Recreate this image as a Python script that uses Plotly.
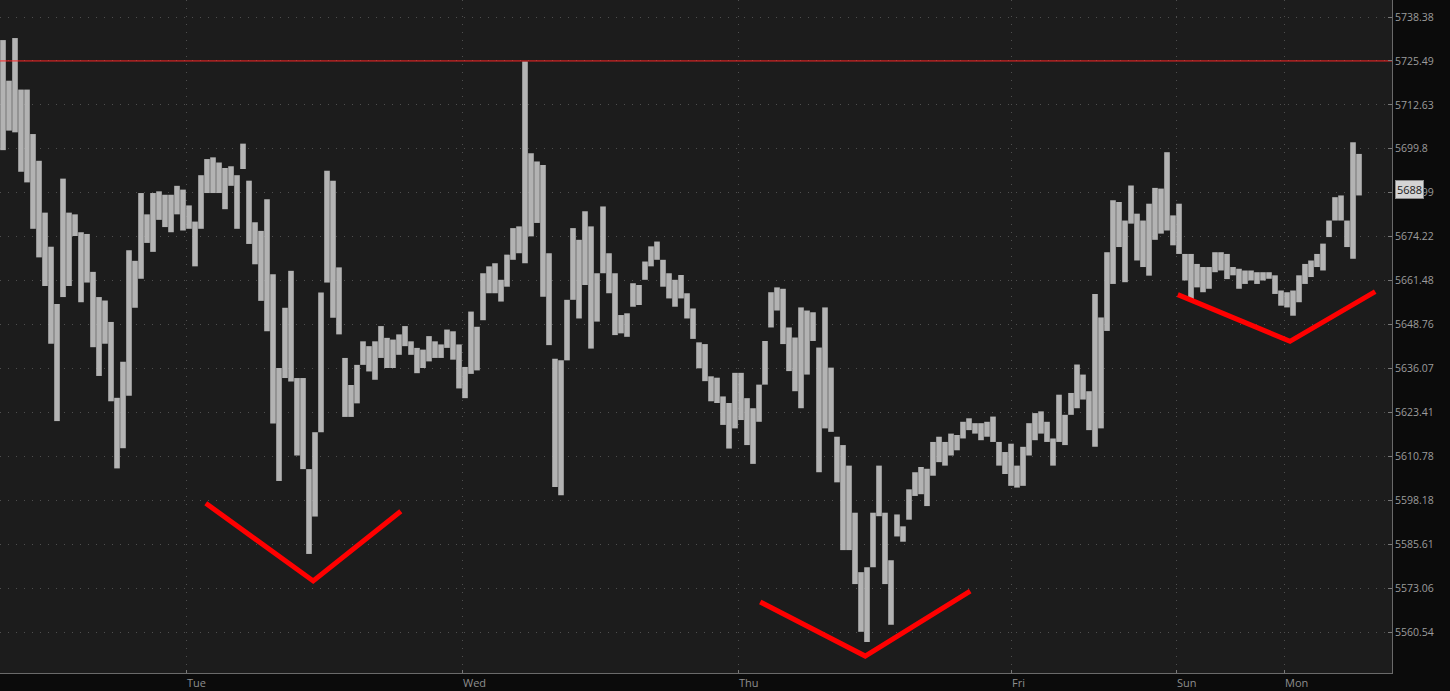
import math
import plotly.graph_objects as go

# 30-minute bars: high / low prices
bar_high = [
    5731.6, 5719.7, 5732.2, 5717.1, 5717.1, 5704.1, 5696.3, 5681.2, 5671.3, 5654.7,
    5691.1, 5681.2, 5680.7, 5675.5, 5675.0, 5664.0, 5656.7, 5655.7, 5649.5, 5627.6,
    5638.0, 5670.3, 5667.2, 5686.9, 5680.7, 5686.9, 5687.4, 5686.4, 5686.4, 5689.0,
    5687.9, 5683.3, 5678.6, 5692.1, 5696.8, 5697.3, 5695.8, 5694.2, 5694.7, 5692.1,
    5701.3, 5690.5, 5678.4, 5675.9, 5685.1, 5663.3, 5636.2, 5653.6, 5664.3, 5633.3,
    5633.3, 5607.1, 5617.7, 5658.0, 5693.4, 5690.5, 5665.3, 5639.1, 5631.3, 5637.1,
    5643.9, 5642.5, 5643.9, 5648.3, 5644.9, 5644.4, 5645.9, 5648.3, 5643.9, 5642.0,
    5641.5, 5645.4, 5643.9, 5643.0, 5647.3, 5646.8, 5643.0, 5636.5, 5652.5, 5648.1,
    5663.6, 5665.6, 5666.5, 5661.7, 5669.0, 5676.7, 5677.2, 5725.3, 5698.5, 5696.1,
    5695.1, 5669.4, 5638.9, 5638.4, 5655.9, 5676.7, 5673.3, 5681.6, 5677.2, 5663.6,
    5683.0, 5669.4, 5663.6, 5651.5, 5652.0, 5660.7, 5660.2, 5667.0, 5671.4, 5672.8,
    5667.5, 5663.6, 5661.7, 5663.1, 5657.8, 5653.4, 5643.6, 5643.1, 5633.8, 5633.4,
    5628.0, 5626.1, 5634.8, 5634.8, 5627.5, 5624.6, 5631.4, 5644.0, 5658.1, 5659.5,
    5659.1, 5647.9, 5645.0, 5653.7, 5652.8, 5652.3, 5642.1, 5653.7, 5636.3, 5616.4,
    5614.0, 5608.1, 5594.6, 5577.6, 5579.0, 5594.6, 5608.1, 5594.6, 5581.0, 5594.1,
    5590.7, 5601.3, 5606.2, 5607.7, 5607.2, 5614.9, 5616.4, 5614.9, 5617.3, 5616.9,
    5620.7, 5621.7, 5620.3, 5620.3, 5620.7, 5622.2, 5614.9, 5612.0, 5614.4, 5608.1,
    5613.5, 5620.3, 5623.2, 5623.7, 5620.7, 5615.9, 5628.5, 5622.7, 5629.0, 5637.2,
    5634.3, 5629.5, 5657.6, 5650.8, 5669.7, 5684.8, 5684.3, 5678.9, 5689.1, 5680.9,
    5678.9, 5683.8, 5688.4, 5688.2, 5698.8, 5680.4, 5683.8, 5669.2, 5669.2, 5666.3,
    5665.4, 5665.4, 5669.7, 5669.7, 5669.2, 5665.4, 5664.9, 5664.4, 5664.4, 5663.9,
    5663.9, 5663.9, 5663.0, 5658.6, 5658.1, 5658.6, 5663.0, 5666.3, 5667.3, 5669.2,
    5672.2, 5678.9, 5685.7, 5686.2, 5678.9, 5701.7, 5698.3,
]
bar_low = [
    5699.4, 5705.1, 5704.6, 5693.1, 5690.0, 5676.5, 5668.2, 5659.9, 5643.2, 5620.9,
    5656.7, 5659.9, 5674.4, 5655.2, 5660.9, 5642.2, 5633.9, 5643.2, 5626.6, 5607.3,
    5613.1, 5628.2, 5653.6, 5662.0, 5672.4, 5669.8, 5679.1, 5677.0, 5675.5, 5680.7,
    5676.0, 5676.5, 5665.6, 5676.5, 5686.9, 5686.9, 5686.9, 5682.2, 5689.0, 5676.5,
    5693.9, 5672.1, 5666.2, 5655.6, 5646.8, 5620.2, 5603.7, 5633.3, 5632.3, 5611.0,
    5607.1, 5582.8, 5593.5, 5617.7, 5660.9, 5650.7, 5645.9, 5622.1, 5622.1, 5626.0,
    5637.1, 5635.2, 5632.8, 5639.1, 5636.2, 5636.2, 5640.0, 5642.5, 5640.0, 5634.7,
    5636.2, 5638.1, 5639.1, 5639.1, 5642.0, 5638.6, 5630.3, 5627.5, 5634.5, 5635.5,
    5650.0, 5657.8, 5657.8, 5655.4, 5659.7, 5667.5, 5669.4, 5666.5, 5674.3, 5678.2,
    5656.8, 5642.8, 5602.0, 5599.6, 5638.4, 5655.9, 5650.5, 5660.2, 5641.8, 5649.6,
    5663.6, 5657.8, 5645.7, 5646.2, 5645.2, 5653.9, 5654.4, 5661.7, 5665.6, 5667.5,
    5659.7, 5656.3, 5653.9, 5656.3, 5650.5, 5644.6, 5636.1, 5632.4, 5626.6, 5626.1,
    5619.8, 5613.0, 5618.8, 5621.2, 5614.0, 5608.6, 5620.7, 5631.4, 5647.9, 5652.8,
    5643.1, 5635.3, 5629.5, 5624.6, 5634.3, 5644.0, 5606.2, 5618.8, 5617.8, 5603.3,
    5583.9, 5583.9, 5574.2, 5560.6, 5557.7, 5579.0, 5593.6, 5574.2, 5562.6, 5587.8,
    5586.3, 5592.6, 5599.4, 5599.9, 5596.5, 5605.2, 5609.1, 5608.1, 5611.0, 5612.5,
    5615.9, 5618.3, 5617.3, 5615.4, 5616.4, 5614.9, 5608.1, 5605.7, 5602.3, 5601.8,
    5602.3, 5611.0, 5615.4, 5617.3, 5614.9, 5608.1, 5614.9, 5614.0, 5622.7, 5624.6,
    5627.1, 5618.3, 5613.5, 5618.8, 5646.9, 5660.5, 5671.2, 5661.0, 5678.0, 5667.3,
    5665.4, 5662.9, 5673.3, 5675.1, 5676.0, 5671.7, 5669.2, 5661.5, 5655.7, 5659.5,
    5658.1, 5659.1, 5663.9, 5664.4, 5661.9, 5663.0, 5659.1, 5660.5, 5661.5, 5660.5,
    5661.5, 5662.0, 5657.6, 5654.2, 5653.7, 5651.3, 5655.2, 5660.5, 5662.5, 5665.4,
    5664.4, 5674.1, 5678.9, 5678.9, 5671.2, 5667.8, 5686.2,
]

# axis ticks
y_ticks = [5738.38, 5725.49, 5712.63, 5699.8, 5686.99, 5674.22, 5661.48, 5648.76,
           5636.07, 5623.41, 5610.78, 5598.18, 5585.61, 5573.06, 5560.54]
x_tick_pos = [30.5, 76.5, 122.5, 168, 195.5, 213.5]
x_tick_labels = ["Tue", "Wed", "Thu", "Fri", "Sun", "Mon"]

# resistance level and last price
resistance = 5725.49
last_price = 5688

# red V drawings (x in bar index, y in price)
v_shapes = [
    ([33.8, 51.7, 66.3], [5597.3, 5575.1, 5595.0]),
    ([126.2, 143.7, 161.2], [5569.1, 5553.7, 5572.2]),
    ([195.8, 214.5, 228.7], [5657.4, 5643.9, 5658.3]),
]

# ---------------------------------------------------------------
W, H = 1450, 691
plot_h = 673
lg_hi, lg_lo = math.log10(y_ticks[0]), math.log10(y_ticks[-1])
per_px = (lg_hi - lg_lo) / (632 - 17)
y_range = [lg_lo - (plot_h - 632) * per_px, lg_hi + 17 * per_px]

xs, ys = [], []
for i, (h, l) in enumerate(zip(bar_high, bar_low)):
    xs += [i, i, None]
    ys += [l, h, None]

fig = go.Figure()
fig.add_trace(go.Scatter(x=xs, y=ys, mode="lines",
                         line=dict(color="#b3b3b3", width=5.6),
                         hoverinfo="skip", showlegend=False))

fig.add_trace(go.Scatter(x=[-0.5, 231.5], y=[resistance, resistance], mode="lines",
                         line=dict(color="#ff2626", width=1),
                         hoverinfo="skip", showlegend=False))

for vx, vy in v_shapes:
    fig.add_trace(go.Scatter(x=vx, y=vy, mode="lines",
                             line=dict(color="#ff0000", width=5),
                             hoverinfo="skip", showlegend=False))

fig.add_annotation(xref="paper", x=1.0, xanchor="left", xshift=3,
                   yref="y", y=math.log10(last_price), yanchor="middle",
                   text=str(last_price), showarrow=False,
                   font=dict(family="Open Sans", size=11, color="#1a1a1a"),
                   bgcolor="#d4d4d4", bordercolor="#8a8a8a", borderwidth=1,
                   borderpad=1)

grid = dict(showgrid=True, gridcolor="#4e4e4e", gridwidth=1, griddash="1px,7px")

fig.update_layout(
    width=W, height=H, autosize=False,
    margin=dict(l=0, r=58, t=0, b=18, pad=0),
    paper_bgcolor="#0b0b0b", plot_bgcolor="#1c1c1c",
    showlegend=False,
    font=dict(family="Open Sans", size=10, color="#9c9c9c"),
    xaxis=dict(range=[-0.5, 231.5], tickvals=x_tick_pos, ticktext=x_tick_labels,
               ticks="inside", ticklen=3, tickcolor="#777", showline=True,
               linecolor="#6a6a6a", linewidth=1, zeroline=False,
               ticklabelposition="outside right",
               tickfont=dict(family="Open Sans", size=11, color="#8e8e8e"),
               fixedrange=True, **grid),
    yaxis=dict(type="log", range=y_range, side="right", tickvals=y_ticks,
               ticktext=[f"{v:g}" if v == 5699.8 else f"{v:.2f}" for v in y_ticks],
               ticks="inside", ticklen=4, tickcolor="#777", showline=True,
               linecolor="#6a6a6a", linewidth=1, zeroline=False,
               tickfont=dict(family="Open Sans", size=10.5, color="#9c9c9c"),
               fixedrange=True, **grid),
)

fig.write_html("out.html", config={"displayModeBar": False},
               post_script="document.body.style.margin='0';"
                           "document.body.style.padding='0';"
                           "document.body.style.background='#0b0b0b';")
